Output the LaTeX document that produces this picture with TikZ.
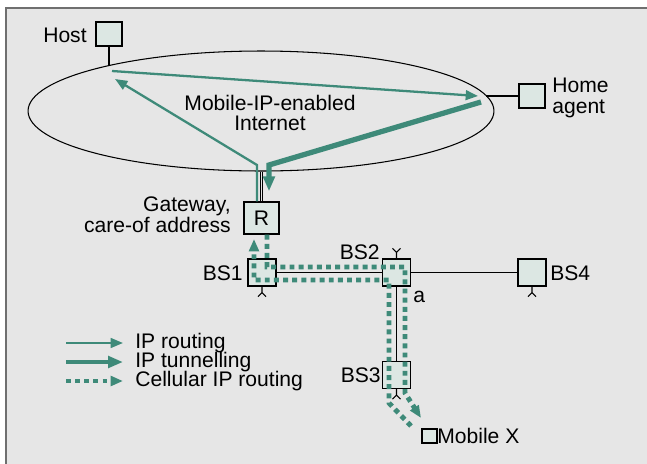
\documentclass[tikz,border=0pt]{standalone}
\usepackage{fontspec}
\setmainfont{Liberation Sans}
\usepackage{tikz}
\usetikzlibrary{
  arrows.meta,
  shapes.geometric,
  calc
}
\definecolor{miTeal}{HTML}{3E8A79}
\definecolor{miBox}{HTML}{DCE7E3}
\definecolor{miBack}{HTML}{E6E6E6}
\definecolor{miFrame}{HTML}{6F6F6F}
\newcommand{\mifont}{\fontsize{12}{11.9}\selectfont}
\tikzset{
  minode/.style={
    draw, line width=0.8pt, fill=miBox, inner sep=0pt, font=\mifont
  },
  endbox/.style={minode, minimum width=0.52cm, minimum height=0.48cm},
  gwbox/.style={minode, minimum width=0.70cm, minimum height=0.64cm},
  bsbox/.style={minode, minimum width=0.56cm, minimum height=0.54cm},
  mobbox/.style={minode, minimum width=0.30cm, minimum height=0.28cm},
  netcloud/.style={draw, ellipse, line width=0.6pt, inner sep=0pt,
    minimum width=9.32cm, minimum height=2.4cm},
  milabel/.style={font=\mifont, inner sep=0pt},
  wire/.style={line width=0.6pt, black},
  link/.style={line width=0.9pt, black},
  stem/.style={line width=0.45pt, black, double=miBack, double distance=1.1pt},
  iproute/.style={-{Triangle[length=7pt, width=5.5pt]}, line width=1.3pt, miTeal},
  iptunnel/.style={-{Triangle[length=8.5pt, width=6.5pt]}, line width=3pt, miTeal},
  cellroute/.style={-{Triangle[length=7pt, width=5.5pt]}, line width=2.8pt, miTeal,
    dash pattern=on 2.8pt off 2.4pt}
}

\begin{document}
\begin{tikzpicture}[x=0.02cm, y=-0.02cm]
  \useasboundingbox (0,0) rectangle (647,464);
  \fill[miBack] (6,8) rectangle (652,470);
  \draw[miFrame, line width=1.1pt] (6,470) -- (6,8) -- (652,8);

  % Internet
  \node[netcloud] (inet) at (261,111) {};
  \node[milabel, align=center] (inettxt) at (270,113) {Mobile-IP-enabled\\Internet};

  % host and home agent
  \node[endbox] (host) at (109,34) {};
  \node[milabel, anchor=east] (hosttxt) at (87,35) {Host};
  \node[endbox] (ha) at (532,96) {};
  \node[milabel, anchor=west, align=left] (hatxt) at (552,98) {Home\\agent};
  \draw[wire] (host.south) -- (host.south |- inet.163);
  \draw[wire] (ha.west) -- (ha.west -| inet.4);

  % gateway and base stations
  \node[gwbox] (gw) at (261.5,218) {R};
  \node[milabel, anchor=east, align=right] (gwtxt) at (231,215) {Gateway,\\care-of address};
  \draw[stem] (gw.north) -- (gw.north |- inet.south);

  \node[bsbox] (bs1) at (262,272.5) {};
  \node[bsbox] (bs2) at (396.5,272.5) {};
  \node[bsbox] (bs3) at (396.5,375) {};
  \node[bsbox] (bs4) at (532,272.5) {};
  \node[mobbox] (mx) at (429.5,436) {};
  \node[milabel, anchor=east] (bs1txt) at (243,273) {BS1};
  \node[milabel, anchor=east] (bs2txt) at (380,252) {BS2};
  \node[milabel, anchor=east] (bs3txt) at (381,375) {BS3};
  \node[milabel, anchor=west] (bs4txt) at (550,273) {BS4};
  \node[milabel, anchor=west] (atxt) at (413,297) {a};
  \node[milabel, anchor=west] (mxtxt) at (437,436) {Mobile X};

  \draw[link] (bs1) -- (bs2);
  \draw[link] (bs2) -- (bs3);
  \draw[wire] (bs2) -- (bs4);
  \foreach \bs in {bs1,bs3,bs4}
    \draw[wire] (\bs.south) -- ++(0,6) -- ++(-4,4) ++(4,-4) -- ++(4,4);
  \draw[wire] (bs2.north) -- ++(0,-6) -- ++(-4,-4) ++(4,4) -- ++(4,-4);

  % Mobile IP routes
  \coordinate (h1) at (112,71);
  \coordinate (h2) at (115,79);
  \coordinate (a1) at (478,96);
  \coordinate (a2) at (481,102);
  \coordinate (k1) at (257,165);
  \coordinate (k2) at (269,165);
  \draw[iproute] (h1) -- (a1);
  \draw[iproute] ([xshift=-0.09cm]gw.north) -- (k1) -- (h2);
  \draw[iptunnel] (a2) -- (k2) -- ([xshift=0.15cm, yshift=0.2cm]gw.north);

  % cellular IP routes
  \coordinate (d1) at (267,267);
  \coordinate (d2) at (405,267);
  \coordinate (d3) at (405,393);
  \coordinate (dtip) at (421,418);
  \coordinate (u0) at (411,426);
  \coordinate (u1) at (389,403);
  \coordinate (u2) at (389,280);
  \coordinate (u3) at (254,280);
  \coordinate (utip) at (254,239);
  \draw[cellroute] ([xshift=0.11cm]gw.south) -- (d1) -- (d2) -- (d3) -- (dtip);
  \draw[cellroute] (u0) -- (u1) -- (u2) -- (u3) -- (utip);

  % legend
  \node[milabel, anchor=west] (lg1) at (135,343) {IP routing};
  \node[milabel, anchor=west] (lg2) at (135,362) {IP tunnelling};
  \node[milabel, anchor=west] (lg3) at (135,381) {Cellular IP routing};
  \coordinate (lg1a) at (66,343);
  \coordinate (lg2a) at (66,362);
  \coordinate (lg3a) at (66,381);
  \draw[iproute] (lg1a) -- ++(57,0);
  \draw[iptunnel, line width=2.4pt] (lg2a) -- ++(57,0);
  \draw[cellroute, line width=2.6pt] (lg3a) -- ++(57,0);
\end{tikzpicture}
\end{document}
